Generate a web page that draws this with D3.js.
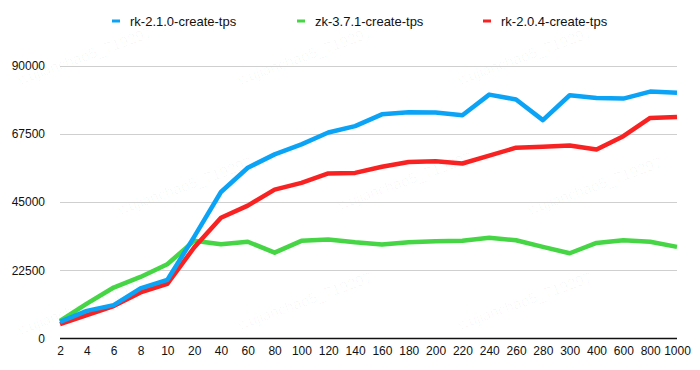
<!DOCTYPE html>
<html>
<head>
<meta charset="utf-8">
<script src="https://cdn.jsdelivr.net/npm/d3@7"></script>
<style>
html,body{margin:0;padding:0;background:#fff;}
svg{display:block;font-family:"Liberation Sans",Arial,Helvetica,sans-serif;}
</style>
</head>
<body>
<svg id="chart" width="700" height="370"></svg>
<script>
const categories = ["2","4","6","8","10","20","40","60","80","100","120","140","160","180","200","220","240","260","280","300","400","600","800","1000"];
const seriesNames = ["rk-2.1.0-create-tps","zk-3.7.1-create-tps","rk-2.0.4-create-tps"];
const rk210 = [5500,9100,11000,16500,19300,33500,48300,56300,60700,64000,67900,70000,73900,74600,74500,73600,80400,78800,72000,80200,79300,79100,81400,81000];
const zk371 = [5800,11500,16800,20300,24500,32200,31100,31900,28300,32200,32600,31700,31000,31700,32100,32200,33200,32400,30200,28100,31500,32400,31900,30200];
const rk204 = [4700,7700,10700,15200,18000,30000,39800,43800,49100,51300,54400,54600,56600,58200,58400,57700,60300,62900,63200,63600,62300,66700,72700,73000];
const yTicks = [0,22500,45000,67500,90000];
const colors = ["#0BA3F5","#45D545","#F92222"];

const svg = d3.select("#chart");

// faint watermark
const wm = svg.append("g").attr("fill","#000").attr("fill-opacity",0.03).attr("font-size",15);
[[20,85],[240,85],[460,85],[120,215],[340,210],[530,215],[20,335],[240,330],[460,330]].forEach(p=>{
  wm.append("text").attr("transform",`translate(${p[0]},${p[1]}) rotate(-20)`).text("wujianchao5_719297");
});

const x = d3.scalePoint().domain(categories).range([60,677]);
const y = d3.scaleLinear().domain([0,90000]).range([338.5,65.5]);

// grid
svg.append("g").selectAll("line").data(yTicks.filter(d=>d>0)).join("line")
  .attr("x1",60).attr("x2",677).attr("y1",d=>Math.round(y(d))+0.5).attr("y2",d=>Math.round(y(d))+0.5)
  .attr("stroke","#cfcfcf").attr("stroke-width",1);

// y axis labels
const yAxis = d3.axisLeft(y).tickValues(yTicks).tickSize(0).tickPadding(15).tickFormat(d=>String(d));
const gy = svg.append("g").attr("transform","translate(60,0)").call(yAxis);
gy.select(".domain").remove();
gy.selectAll("text").attr("font-size",12).attr("fill","#111").attr("font-family","Liberation Sans, Arial, sans-serif");

// x axis
const xAxis = d3.axisBottom(x).tickSize(0).tickPadding(8);
const gx = svg.append("g").attr("transform","translate(0,338.5)").call(xAxis);
gx.select(".domain").attr("stroke","#111").attr("stroke-width",1.5).attr("d","M60,0H677");
gx.selectAll("text").attr("font-size",12).attr("fill","#111").attr("font-family","Liberation Sans, Arial, sans-serif");

// lines
const data = [rk210, zk371, rk204];
const line = d3.line().x((d,i)=>x(categories[i])).y(d=>y(d));
const order = [1,2,0];
order.forEach(k=>{
  svg.append("path").datum(data[k]).attr("d",line)
    .attr("fill","none").attr("stroke",colors[k]).attr("stroke-width",4.5)
    .attr("stroke-linejoin","round").attr("stroke-linecap","butt");
});

// legend
const legX = [112,297,483];
const lg = svg.append("g");
seriesNames.forEach((n,i)=>{
  lg.append("line").attr("x1",legX[i]).attr("x2",legX[i]+8).attr("y1",21).attr("y2",21)
    .attr("stroke",colors[i]).attr("stroke-width",3);
  lg.append("text").attr("x",legX[i]+18).attr("y",21).attr("dy","0.35em")
    .attr("font-size",13).attr("fill","#111").text(n);
});
</script>
</body>
</html>
